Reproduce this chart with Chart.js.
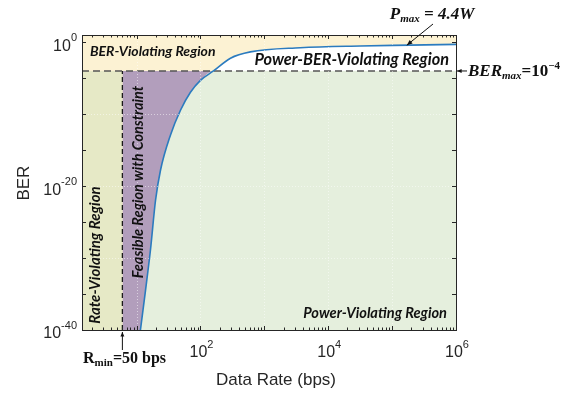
<!DOCTYPE html>
<html lang="en">
<head>
<meta charset="UTF-8">
<title>BER vs Data Rate</title>
<script src="https://cdn.jsdelivr.net/npm/chart.js"></script>
<style>
  body { margin: 0; background: #fff; }
  canvas { display: block; }
</style>
</head>
<body>
<canvas id="plot" width="570" height="394"></canvas>
<script>
// axis limits
const xMin = 1.4, xMax = 1e6;
const yMin = 1e-40, yMax = 10;

// BER curve at P_max = 4.4 W
const rate = [11.5, 13.8, 16.5, 19.8, 23.7, 34, 48.7, 69.8, 100, 160, 295, 605, 3650, 31600, 191000, 1000000];
const ber  = [1e-40, 3e-35, 1.3e-29, 1e-22, 1.6e-18, 1.3e-13, 3.5e-10, 1.1e-7, 5e-6, 1e-4, 6e-3, 0.045, 0.17, 0.3, 0.39, 0.5];

// constraints
const berMax = 1e-4;
const rMinAt = 6;          // where the R_min line sits on the drawn axis
const pmaxAt = [1.7e5, 0.38]; // point the P_max arrow points to

// tick labels
const xTickLabels = [[1e2, '2'], [1e4, '4'], [1e6, '6']];
const yTickLabels = [[1e0, '0'], [1e-20, '-20'], [1e-40, '-40']];

// colours
const cYellow = '#fcf2d3';
const cOlive = '#e6e9c6';
const cPurple = '#b29ebc';
const cGreen = '#e5efdd';
const cCurve = '#2b7bbf';

const curvePts = rate.map((r, i) => ({ x: r, y: ber[i] }));
const clippedPts = curvePts.map(p => ({ x: p.x, y: Math.min(p.y, berMax) }));

const xMinor = [];
for (let e = 0; e < 6; e++) for (let k = 1; k <= 9; k++) {
  const v = k * Math.pow(10, e);
  if (v > xMin && v < xMax) xMinor.push(v);
}
const yMinor = [];
for (let e = -35; e <= 0; e += 5) yMinor.push(Math.pow(10, e));

const sans = '"Liberation Sans", Arial, sans-serif';
const serif = '"Liberation Serif", "Times New Roman", serif';
const region = '"Lato", "Open Sans", sans-serif';

function drawRuns(ctx, runs, x, y, align) {
  let w = 0;
  runs.forEach(r => { ctx.font = r[1]; w += ctx.measureText(r[0]).width; });
  let cx = align === 'right' ? x - w : align === 'center' ? x - w / 2 : x;
  ctx.textAlign = 'left';
  ctx.textBaseline = 'middle';
  runs.forEach(r => {
    ctx.font = r[1];
    ctx.fillText(r[0], cx, y + r[2]);
    cx += ctx.measureText(r[0]).width;
  });
}

function arrow(ctx, x1, y1, x2, y2, h) {
  const ang = Math.atan2(y2 - y1, x2 - x1);
  ctx.beginPath();
  ctx.moveTo(x1, y1);
  ctx.lineTo(x2, y2);
  ctx.stroke();
  ctx.beginPath();
  ctx.moveTo(x2, y2);
  ctx.lineTo(x2 - h * Math.cos(ang - 0.4), y2 - h * Math.sin(ang - 0.4));
  ctx.lineTo(x2 - h * Math.cos(ang + 0.4), y2 - h * Math.sin(ang + 0.4));
  ctx.closePath();
  ctx.fill();
}

const decor = {
  id: 'decor',
  afterDatasetsDraw(chart) {
    const { ctx, chartArea: a, scales: { x, y } } = chart;
    ctx.save();
    // faint grid
    ctx.strokeStyle = 'rgba(255,255,255,0.5)';
    ctx.lineWidth = 1;
    ctx.setLineDash([1, 2]);
    for (let e = 1; e < 6; e++) {
      const px = Math.round(x.getPixelForValue(Math.pow(10, e))) + 0.5;
      ctx.beginPath(); ctx.moveTo(px, a.top); ctx.lineTo(px, a.bottom); ctx.stroke();
    }
    [1e-10, 1e-20, 1e-30].forEach(v => {
      const py = Math.round(y.getPixelForValue(v)) + 0.5;
      ctx.beginPath(); ctx.moveTo(a.left, py); ctx.lineTo(a.right, py); ctx.stroke();
    });
    ctx.setLineDash([]);

    // box
    ctx.strokeStyle = '#262626';
    ctx.strokeRect(Math.round(a.left) + 0.5, Math.round(a.top) + 0.5, Math.round(a.right - a.left), Math.round(a.bottom - a.top));

    // inward ticks
    ctx.beginPath();
    xMinor.forEach(v => {
      const px = Math.round(x.getPixelForValue(v)) + 0.5;
      const len = Math.abs(Math.log10(v) % 1) < 1e-9 ? 4 : 2.5;
      ctx.moveTo(px, a.bottom); ctx.lineTo(px, a.bottom - len);
      ctx.moveTo(px, a.top); ctx.lineTo(px, a.top + len);
    });
    yMinor.forEach(v => {
      const py = Math.round(y.getPixelForValue(v)) + 0.5;
      ctx.moveTo(a.left, py); ctx.lineTo(a.left + 4, py);
      ctx.moveTo(a.right, py); ctx.lineTo(a.right - 4, py);
    });
    ctx.stroke();

    // tick labels
    ctx.fillStyle = '#262626';
    const tf = '16px ' + sans, sf = '11px ' + sans;
    xTickLabels.forEach(t => {
      drawRuns(ctx, [['10', tf, 4], [t[1], sf, -4]], x.getPixelForValue(t[0]) + 1, a.bottom + 19, 'center');
    });
    yTickLabels.forEach(t => {
      drawRuns(ctx, [['10', tf, 4], [t[1], sf, -4]], a.left - 5, y.getPixelForValue(t[0]), 'right');
    });

    // axis titles
    ctx.font = '17px ' + sans;
    ctx.textAlign = 'center';
    ctx.textBaseline = 'middle';
    ctx.fillText('Data Rate (bps)', (a.left + a.right) / 2 + 7, a.bottom + 50);
    ctx.save();
    ctx.translate(24, y.getPixelForValue(1e-20) - 3);
    ctx.rotate(-Math.PI / 2);
    ctx.fillText('BER', 0, 0);
    ctx.restore();

    // region labels
    const yb = y.getPixelForValue(berMax);
    const xr = x.getPixelForValue(rMinAt);
    ctx.fillStyle = '#111';
    drawRuns(ctx, [['BER-Violating Region', 'italic bold 14px ' + region, 0]], a.left + 8, a.top + 16, 'left');
    drawRuns(ctx, [['Power-BER-Violating Region', 'italic bold 16.3px ' + region, 0]], a.right - 7, yb - 11, 'right');
    drawRuns(ctx, [['Power-Violating Region', 'italic bold 14.6px ' + region, 0]], a.right - 9, a.bottom - 17, 'right');
    ctx.save();
    ctx.translate(a.left + 13, a.bottom - 75);
    ctx.rotate(-Math.PI / 2);
    drawRuns(ctx, [['Rate-Violating Region', 'italic bold 15px ' + region, 0]], 0, 0, 'center');
    ctx.restore();
    ctx.save();
    ctx.translate(xr + 16, y.getPixelForValue(1e-20) - 4);
    ctx.rotate(-Math.PI / 2);
    drawRuns(ctx, [['Feasible Region with Constraint', 'italic bold 14.5px ' + region, 0]], 0, 0, 'center');
    ctx.restore();

    // annotations
    const mb = 'italic bold 17px ' + serif, ms = 'italic bold 11px ' + serif;
    drawRuns(ctx, [['P', mb, 0], ['max', ms, 4], [' = 4.4W', mb, 0]], 432, 15, 'center');
    drawRuns(ctx, [['BER', mb, 0], ['max', ms, 4], ['=10', 'bold 17px ' + serif, 0], ['\u22124', 'bold 11px ' + serif, -6]], 468, yb + 1, 'left');
    drawRuns(ctx, [['R', 'bold 16px ' + serif, 0], ['min', 'bold 11px ' + serif, 4], ['=50 bps', 'bold 16px ' + serif, 0]], 83, a.bottom + 29, 'left');

    ctx.strokeStyle = '#111';
    ctx.lineWidth = 1;
    arrow(ctx, 433, 24, x.getPixelForValue(pmaxAt[0]), y.getPixelForValue(pmaxAt[1]), 6);
    arrow(ctx, 467, yb, a.right + 1, yb, 5);
    arrow(ctx, xr, a.bottom + 20, xr, a.bottom + 2, 5);
    ctx.restore();
  }
};

const hLine = (x0, x1, v) => [{ x: x0, y: v }, { x: x1, y: v }];

new Chart(document.getElementById('plot'), {
  type: 'line',
  data: {
    datasets: [
      { data: curvePts, borderColor: cCurve, borderWidth: 1.6, cubicInterpolationMode: 'monotone', fill: false },
      { data: hLine(xMin, xMax, berMax), borderColor: '#555', borderWidth: 1.6, borderDash: [7, 4], fill: false },
      { data: [{ x: rMinAt, y: yMin }, { x: rMinAt, y: berMax }], borderColor: '#1a1a1a', borderWidth: 1.3, borderDash: [5, 3], fill: false },
      { data: hLine(xMin, rMinAt, berMax), borderWidth: 0, backgroundColor: cOlive, fill: 'start' },
      { data: clippedPts, borderWidth: 0, backgroundColor: cGreen, cubicInterpolationMode: 'monotone', fill: 'start' },
      { data: hLine(rMinAt, xMax, berMax), borderWidth: 0, backgroundColor: cPurple, fill: 'start' },
      { data: curvePts, borderWidth: 0, backgroundColor: '#ffffff', cubicInterpolationMode: 'monotone', fill: 'start' },
      { data: hLine(xMin, xMax, yMax), borderWidth: 0, backgroundColor: cYellow, fill: 'start' }
    ]
  },
  options: {
    responsive: false,
    animation: false,
    layout: { padding: { top: 35, right: 114, left: 0, bottom: 0 } },
    elements: { point: { radius: 0 } },
    plugins: { legend: { display: false }, tooltip: { enabled: false } },
    scales: {
      x: {
        type: 'logarithmic', min: xMin, max: xMax,
        ticks: { display: false },
        grid: { display: false },
        border: { display: false },
        afterFit: s => { s.height = 64; }
      },
      y: {
        type: 'logarithmic', min: yMin, max: yMax,
        ticks: { display: false },
        grid: { display: false },
        border: { display: false },
        afterFit: s => { s.width = 82; }
      }
    }
  },
  plugins: [decor]
});
</script>
</body>
</html>
